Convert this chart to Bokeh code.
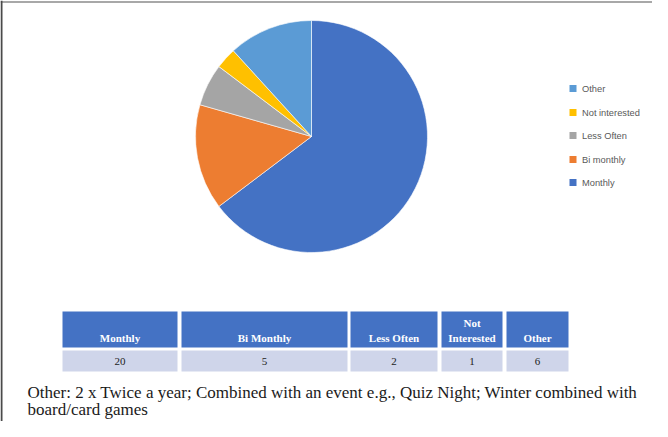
import numpy as np
from bokeh.plotting import figure
from bokeh.models import Range1d, Span
from bokeh.core.properties import value
from bokeh.embed import file_html
from bokeh.resources import INLINE

# ---- data ----
pie_labels = ["Monthly", "Bi monthly", "Less Often", "Not interested", "Other"]
pie_values = [22, 5, 2, 1, 4]
pie_colors = ["#4472C4", "#ED7D31", "#A5A5A5", "#FFC000", "#5B9BD5"]

table_headers = ["Monthly", "Bi Monthly", "Less Often", "Not\nInterested", "Other"]
table_values = [20, 5, 2, 1, 6]

footnote_lines = [
    "Other: 2 x Twice a year; Combined with an event e.g., Quiz Night; Winter combined with",
    "board/card games",
]

# ---- layout (reference pixel coordinates, shifted into the figure) ----
W, H = 652, 421
X0, Y0 = 6, 11          # reference pixel shown at the figure's top-left corner
PAGE_H = 437


def Y(y):
    return PAGE_H - y


p = figure(width=W, height=H, output_backend="svg", toolbar_location=None,
           x_range=Range1d(X0, X0 + W), y_range=Range1d(Y(Y0 + H), Y(Y0)),
           min_border=0)
p.axis.visible = False
p.grid.visible = False
p.outline_line_color = None
p.background_fill_color = "white"
p.border_fill_color = "white"

# frame lines
p.add_layout(Span(location=Y(12.5), dimension="width", line_color="#a8a8a8", line_width=2))
p.add_layout(Span(location=7, dimension="height", line_color="#4a4a4a", line_width=2))

# ---- pie ----
vals = np.array(pie_values, dtype=float)
frac = vals / vals.sum()
cum = np.concatenate([[0.0], np.cumsum(frac)])
start = np.pi / 2 - cum[:-1] * 2 * np.pi
end = np.pi / 2 - cum[1:] * 2 * np.pi
p.wedge(x=317, y=Y(147), radius=116, radius_units="screen",
        start_angle=start, end_angle=end, direction="clock",
        fill_color=pie_colors, line_color="white", line_width=0.6)

# ---- legend (reverse order, Other on top) ----
leg_y = [193, 170, 146, 123, 99]
p.rect(x=[578.5] * 5, y=[Y(v) for v in leg_y], width=7, height=7,
       width_units="screen", height_units="screen",
       fill_color=pie_colors, line_color=None)
p.text(x=[587.5] * 5, y=[Y(v) for v in leg_y], text=pie_labels,
       text_font=value("Liberation Sans"), text_font_size="9.3px",
       text_color="#595959", text_baseline="middle", text_align="left")

# ---- table ----
col_left = [68, 187, 356, 447, 512]
col_right = [183, 353, 443, 508, 574]
p.quad(left=col_left, right=col_right, top=[Y(322)] * 5, bottom=[Y(358)] * 5,
       fill_color="#4472C4", line_color=None)
p.quad(left=col_left, right=col_right, top=[Y(361)] * 5, bottom=[Y(382)] * 5,
       fill_color="#CFD5EA", line_color=None)
cx = [(a + b) / 2 for a, b in zip(col_left, col_right)]
p.text(x=cx, y=[Y(354)] * 5, text=table_headers,
       text_font=value("Liberation Serif"), text_font_size="11px",
       text_font_style="bold", text_color="white", text_align="center",
       text_baseline="bottom", text_line_height=1.25)
p.text(x=cx, y=[Y(371.5)] * 5, text=[str(v) for v in table_values],
       text_font=value("Liberation Serif"), text_font_size="11px",
       text_color="#222222", text_align="center", text_baseline="middle")

# ---- footnote ----
p.text(x=[33, 33], y=[Y(403), Y(420)], text=footnote_lines,
       text_font=value("Liberation Serif"), text_font_size="17px",
       text_color="#1a1a1a", text_align="left", text_baseline="alphabetic")

open("out.html", "w").write(file_html(p, INLINE))
